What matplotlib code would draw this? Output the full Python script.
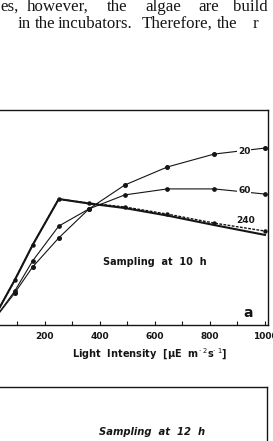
import matplotlib
matplotlib.use("Agg")
import matplotlib.pyplot as plt
from matplotlib.ticker import MultipleLocator

W, H = 273, 441
DPI = 100

# ---- data ----
light = [0, 90, 155, 250, 360, 490, 645, 815, 1000]
rate_20 = [0, 14.9, 27.0, 40.5, 54.0, 65.1, 73.5, 79.5, 82.3]
rate_60 = [0, 15.8, 29.8, 46.0, 54.0, 60.5, 63.3, 63.3, 60.9]
rate_240 = [0, 20.9, 37.2, 58.6, 56.7, 54.9, 51.6, 47.4, 43.7]
rate_ctrl = [0, 20.9, 37.2, 58.6, 56.5, 54.4, 50.9, 46.5, 41.9]

curve_labels = ["20", "60", "240"]
label_pos = [(925, 80.6), (925, 62.4), (928, 48.6)]
xticks = [200, 400, 600, 800, 1000]

line1_words = ["es,", "however,", "the", "algae", "are", "build"]
line1_x = [0, 27, 107, 145, 198, 233]
line2_words = ["in", "the", "incubators.", "Therefore,", "the", "r"]
line2_x = [18, 35, 58, 142, 217, 253]

ink = "#151515"

fig = plt.figure(figsize=(W / DPI, H / DPI), dpi=DPI)
fig.patch.set_facecolor("white")

def fx(px):
    return px / W

def fy(py):
    return 1 - py / H

# body text
for w, x in zip(line1_words, line1_x):
    fig.text(fx(x), fy(11), w, family="Liberation Serif", fontsize=12.2,
             color=ink, ha="left", va="baseline")
for w, x in zip(line2_words, line2_x):
    fig.text(fx(x), fy(28), w, family="Liberation Serif", fontsize=12.2,
             color=ink, ha="left", va="baseline")

# ---- top panel ----
left_px, right_px, top_px, bot_px = -10, 267.7, 110, 325
ax = fig.add_axes([fx(left_px), fy(bot_px), fx(right_px - left_px), (bot_px - top_px) / H])
ax.set_xlim(0, 1010)
ax.set_ylim(0, 100)

def axx(px):
    return (px - left_px) / (right_px - left_px)

def axy(py):
    return (bot_px - py) / (bot_px - top_px)

ax.plot(light, rate_20, color=ink, lw=0.8, marker="o", ms=2.6, zorder=3)
ax.plot(light, rate_60, color=ink, lw=0.8, marker="o", ms=2.4, zorder=3)
ax.plot(light, rate_ctrl, color=ink, lw=1.5, zorder=3)
ax.plot(light, rate_240, color=ink, lw=1.0, ls=(0, (2, 1)), marker="o", ms=2.2, zorder=3)

for t, (x, y) in zip(curve_labels, label_pos):
    ax.text(x, y, t, fontsize=6.5, fontweight="bold", color=ink, ha="center", va="center",
            bbox=dict(facecolor="white", edgecolor="none", pad=0.6), zorder=4)

ax.text(axx(155), axy(262), "Sampling  at  10  h", transform=ax.transAxes,
        fontsize=7, fontweight="bold", color=ink, ha="center", va="center")
ax.text(axx(248), axy(313), "a", transform=ax.transAxes, fontsize=10,
        fontweight="bold", color=ink, ha="center", va="center")

ax.set_xticks(xticks)
ax.set_xticklabels([str(v) for v in xticks], fontsize=6.5, fontweight="bold", color=ink)
ax.xaxis.set_minor_locator(MultipleLocator(100))
ax.tick_params(axis="x", which="both", direction="in", length=3, width=0.8, pad=5, colors=ink)
ax.set_yticks([])
for s in ax.spines.values():
    s.set_color(ink)
    s.set_linewidth(1.0)
ax.text(axx(150), axy(354), "Light  Intensity  [μE  m$^{\\cdot\\ 2}$s$^{\\cdot\\ 1}$]",
        transform=ax.transAxes, fontsize=7, fontweight="bold", color=ink,
        ha="center", va="center", clip_on=False)

# ---- bottom panel (cut off by the page) ----
top2, bot2 = 387, 600
ax2 = fig.add_axes([fx(left_px), fy(bot2), fx(267 - left_px), (bot2 - top2) / H])
ax2.set_xlim(0, 1010)
ax2.set_ylim(0, 100)
ax2.set_xticks([])
ax2.set_yticks([])
for s in ax2.spines.values():
    s.set_color(ink)
    s.set_linewidth(1.0)
ax2.text((152 - left_px) / (267 - left_px), (bot2 - 432) / (bot2 - top2),
         "Sampling  at  12  h", transform=ax2.transAxes, fontsize=7.2, fontweight="bold",
         style="italic", color=ink, ha="center", va="center")

fig.savefig("out.png", dpi=DPI, facecolor="white")
